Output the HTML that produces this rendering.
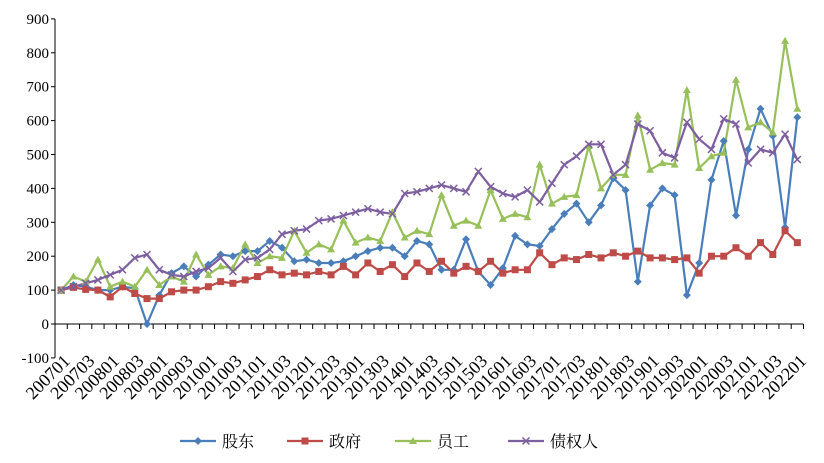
<!DOCTYPE html>
<html><head><meta charset="utf-8"><style>
html,body{margin:0;padding:0;background:#fff;}
svg{display:block;font-family:"Liberation Serif","Noto Serif CJK SC",serif;}
</style></head><body>
<svg id="s" width="824" height="463" viewBox="0 0 824 463" xmlns="http://www.w3.org/2000/svg"></svg>
<script>
const S=document.getElementById('s');
const ns='http://www.w3.org/2000/svg';
function el(t,a,txt){const e=document.createElementNS(ns,t);for(const k in a)e.setAttribute(k,a[k]);if(txt!==undefined)e.textContent=txt;S.appendChild(e);return e;}
const X0=55,STEP=12.27;
const X=i=>X0+STEP*(i+0.5);
const Y=v=>324-v*0.339;
el('line',{x1:X0,y1:Y(900),x2:X0,y2:Y(-100),stroke:'#000','stroke-width':1});
for(let v=-100;v<=900;v+=100){
  el('line',{x1:X0-4,y1:Y(v),x2:X0,y2:Y(v),stroke:'#000'});
  el('text',{x:X0-6,y:Y(v)+5,'text-anchor':'end','font-size':15},String(v));
}
el('line',{x1:X0,y1:324,x2:X0+STEP*61,y2:324,stroke:'#000'});
for(let k=0;k<=61;k++){const x=X0+STEP*k;el('line',{x1:x,y1:324,x2:x,y2:329,stroke:'#000'});}
for(let i=0;i<61;i+=2){
  const yr=2007+Math.floor(i/4), q=(i%4)+1;
  const lab=yr+'0'+q;
  const x=X(i)+10,y=362;
  el('text',{x:x,y:y,'text-anchor':'end','font-size':18,transform:`rotate(-45 ${x} ${y})`},lab);
}
const data={
g:[100,115,110,100,100,110,105,0,85,150,170,140,175,205,200,215,215,245,225,185,190,180,180,185,200,215,225,225,200,245,235,160,160,250,155,115,165,260,235,230,280,325,355,300,350,430,395,125,350,400,380,85,180,425,540,320,515,635,555,285,610],
z:[100,108,102,100,80,110,90,75,75,95,100,100,110,125,120,130,140,160,145,150,145,155,145,170,145,180,155,175,140,180,155,185,150,170,155,185,150,160,160,210,175,195,190,205,195,210,200,215,195,195,190,195,150,200,200,225,200,240,205,275,240],
y:[100,140,125,190,110,125,110,160,115,140,125,205,145,170,165,235,180,200,195,275,210,235,220,305,240,255,245,330,255,275,265,380,290,305,290,395,310,325,315,470,355,375,380,525,400,440,440,615,455,475,470,690,460,495,505,720,580,595,565,835,635],
c:[100,110,120,130,145,160,195,205,160,145,140,155,165,195,155,190,195,220,265,275,280,305,310,320,330,340,330,325,385,390,400,410,400,390,450,405,385,375,395,360,415,470,495,530,530,440,470,590,570,505,490,595,545,515,605,590,475,515,505,560,485]};
const cols={g:'#4a7ebb',z:'#be4b48',y:'#98c05a',c:'#7d5fa0'};
function marker(k,x,y){
  const c=cols[k];
  if(k=='g')el('path',{d:`M${x} ${y-4}L${x+4} ${y}L${x} ${y+4}L${x-4} ${y}Z`,fill:c});
  else if(k=='z')el('rect',{x:x-3.5,y:y-3.5,width:7,height:7,fill:c});
  else if(k=='y')el('path',{d:`M${x} ${y-4}L${x+4} ${y+3}L${x-4} ${y+3}Z`,fill:c});
  else {el('path',{d:`M${x-3.5} ${y-3.5}L${x+3.5} ${y+3.5}M${x+3.5} ${y-3.5}L${x-3.5} ${y+3.5}`,stroke:c,'stroke-width':1.5});}
}
for(const k of ['g','z','y','c']){
  const p=data[k].map((v,i)=>X(i).toFixed(1)+','+Y(v).toFixed(1)).join(' ');
  el('polyline',{points:p,fill:'none',stroke:cols[k],'stroke-width':2.2,'stroke-linejoin':'round'});
}
for(const k of ['g','z','y','c'])data[k].forEach((v,i)=>marker(k,X(i),Y(v)));
const leg=[['g',180,'股东'],['z',287,'政府'],['y',395,'员工'],['c',508,'债权人']];
for(const [k,x,t] of leg){
  el('line',{x1:x,y1:441,x2:x+36,y2:441,stroke:cols[k],'stroke-width':2.2});
  marker(k,x+18,441);
  el('text',{x:x+42,y:447,'font-size':16},t);
}
</script>
</body></html>
